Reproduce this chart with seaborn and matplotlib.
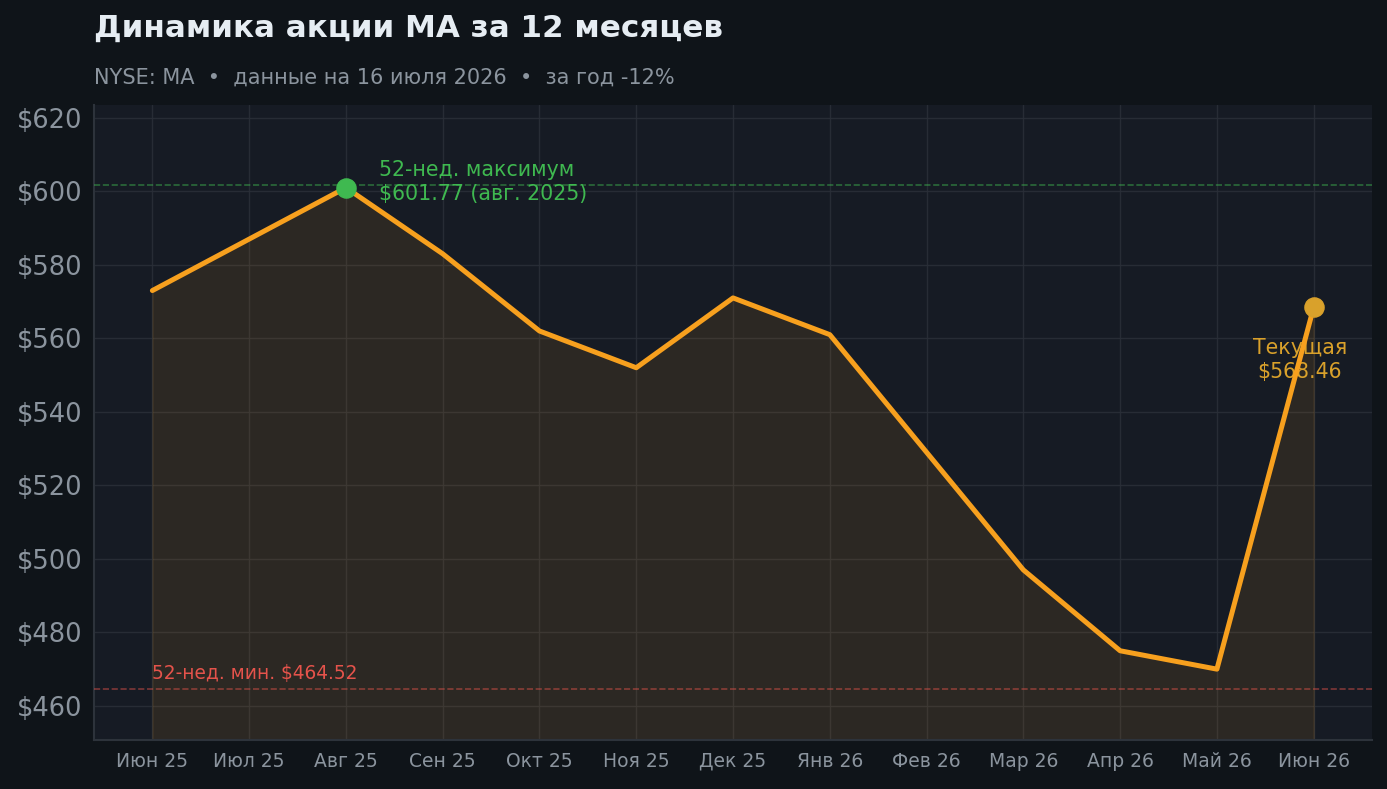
import pandas as pd
import matplotlib.pyplot as plt
import seaborn as sns

# monthly closing prices
months = ['Июн 25', 'Июл 25', 'Авг 25', 'Сен 25', 'Окт 25', 'Ноя 25', 'Дек 25',
          'Янв 26', 'Фев 26', 'Мар 26', 'Апр 26', 'Май 26', 'Июн 26']
prices = [573, 587, 601, 583, 562, 552, 571, 561, 529, 497, 475, 470, 568.46]
high_52w = 601.77
low_52w = 464.52
current = 568.46

df = pd.DataFrame({'idx': range(len(months)), 'month': months, 'price': prices})

bg = '#0f1419'
panel = '#161b24'
orange = '#f7a01e'
green = '#3fb950'
red = '#e5534b'
gold = '#d9a12b'
muted = '#8b949e'

sns.set_theme(style='darkgrid')
plt.rcParams['font.family'] = ['DejaVu Sans']

fig, ax = plt.subplots(figsize=(13.87, 7.89), dpi=100)
fig.patch.set_facecolor(bg)
ax.set_facecolor(panel)

ymin, ymax = 450.7, 623.5
sns.lineplot(data=df, x='idx', y='price', color=orange, linewidth=3.6, ax=ax, zorder=4)
ax.fill_between(df['idx'], df['price'], ymin, color=orange, alpha=0.1, zorder=2)

ax.axhline(high_52w, color=green, linestyle='--', linewidth=1.2, alpha=0.5, zorder=3)
ax.axhline(low_52w, color=red, linestyle='--', linewidth=1.2, alpha=0.5, zorder=3)

# markers
ax.scatter([2], [prices[2]], s=190, color=green, zorder=5)
ax.scatter([12], [current], s=190, color=gold, zorder=5)

ax.annotate('52-нед. максимум\n$601.77 (авг. 2025)', xy=(2, prices[2]), xytext=(24, 4),
            textcoords='offset points', color=green, fontsize=14.8, ha='left', va='center',
            linespacing=1.3)
ax.annotate('Текущая\n$568.46', xy=(12, current), xytext=(-10, -38),
            textcoords='offset points', color=gold, fontsize=14.8, ha='center', va='center',
            linespacing=1.3)
ax.text(0, low_52w + 1.8, '52-нед. мин. $464.52', color=red, fontsize=13.4,
        ha='left', va='bottom')

ax.set_xlim(-0.6, 12.6)
ax.set_ylim(ymin, ymax)
ax.set_xticks(range(len(months)))
ax.set_xticklabels(months)
ax.set_yticks(range(460, 621, 20))
ax.set_yticklabels([f'${v}' for v in range(460, 621, 20)])
ax.set_xlabel('')
ax.set_ylabel('')

ax.grid(True, color='#2a2f38', linewidth=1, alpha=0.9)
ax.tick_params(axis='x', colors=muted, labelsize=13.5, length=5, width=1.2)
ax.tick_params(axis='y', colors=muted, labelsize=18.5, length=5, width=1.2)
for side in ['top', 'right']:
    ax.spines[side].set_visible(False)
for side in ['left', 'bottom']:
    ax.spines[side].set_visible(True)
    ax.spines[side].set_color('#2d333b')
    ax.spines[side].set_linewidth(1.5)

fig.subplots_adjust(left=0.068, right=0.989, top=0.867, bottom=0.062)
fig.text(0.068, 0.964, 'Динамика акции MA за 12 месяцев', color='#e6edf3',
         fontsize=22.3, fontweight='bold', ha='left', va='center')
fig.text(0.068, 0.902, 'NYSE: MA  •  данные на 16 июля 2026  •  за год -12%', color=muted,
         fontsize=15, ha='left', va='center')

fig.savefig('out.png', dpi=100, facecolor=bg)
